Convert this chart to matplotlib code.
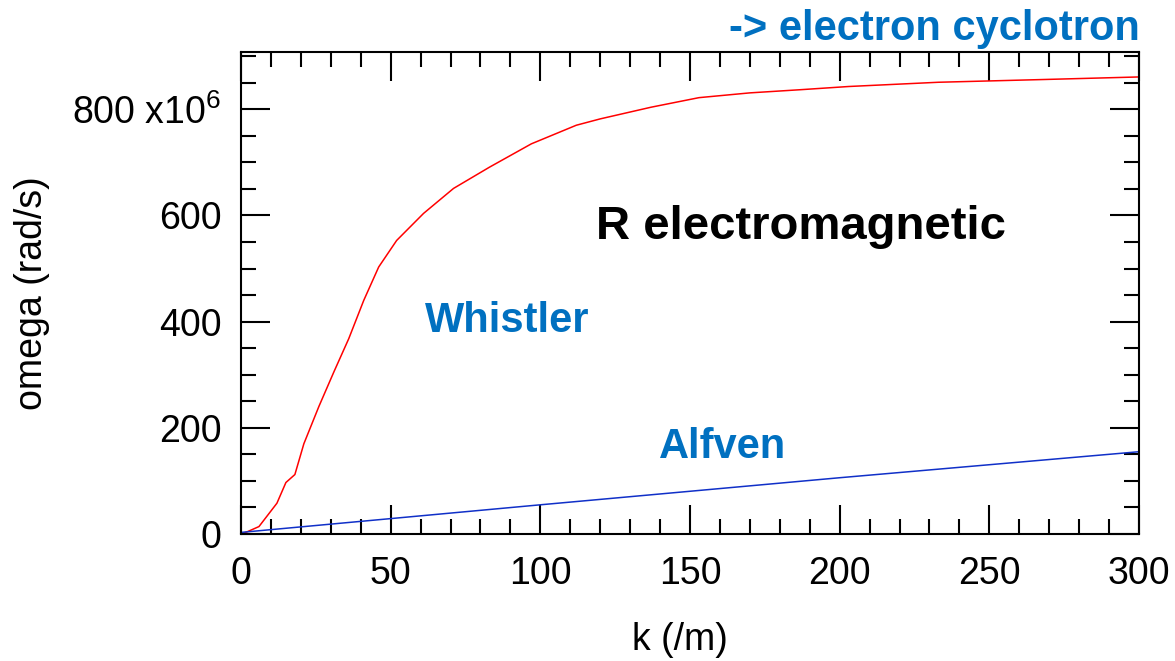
import matplotlib
matplotlib.use("Agg")
import matplotlib.pyplot as plt
from matplotlib.ticker import MultipleLocator, FixedLocator, FixedFormatter

plt.rcParams["font.family"] = ["Liberation Sans", "DejaVu Sans"]
plt.rcParams["mathtext.fontset"] = "custom"
plt.rcParams["mathtext.rm"] = "Liberation Sans"
plt.rcParams["mathtext.it"] = "Liberation Sans:italic"
plt.rcParams["mathtext.bf"] = "Liberation Sans:bold"

# R-wave branch (whistler -> electron cyclotron), omega in rad/s
k_whistler = [0, 2, 6, 9, 12, 15, 18, 21, 26, 31, 36, 41, 46, 52, 61, 71,
              83, 97, 112, 120, 137, 153, 170, 187, 203, 233, 267, 300]
omega_whistler = [0, 4, 14, 36, 58, 97, 112, 170, 240, 305, 368, 440, 503,
                  553, 604, 651, 691, 735, 770, 782, 804, 822, 831, 837,
                  843, 851, 856, 861]
omega_whistler = [w * 1e6 for w in omega_whistler]

# Alfven branch
k_alfven = [0, 100, 200, 300]
omega_alfven = [3e6, 55e6, 106e6, 155e6]

y_ticks = [0, 200e6, 400e6, 600e6, 800e6]
y_tick_labels = ["0", "200", "400", "600", "800 x$10^{6}$"]
x_ticks = [0, 50, 100, 150, 200, 250, 300]

BLUE = "#0070C0"

fig = plt.figure(figsize=(11.75, 6.61), dpi=100)
ax = fig.add_axes([241 / 1175, 1 - 534 / 661, 898 / 1175, 482 / 661])

ax.plot(k_whistler, omega_whistler, color="#FF0000", lw=1.1)
ax.plot(k_alfven, omega_alfven, color="#1030C8", lw=1.1)

ax.set_xlim(0, 300)
ax.set_ylim(0, 908e6)

ax.xaxis.set_major_locator(FixedLocator(x_ticks))
ax.xaxis.set_minor_locator(MultipleLocator(10))
ax.yaxis.set_major_locator(FixedLocator(y_ticks))
ax.yaxis.set_major_formatter(FixedFormatter(y_tick_labels))
ax.yaxis.set_minor_locator(MultipleLocator(50e6))

for s in ax.spines.values():
    s.set_linewidth(1.5)

ax.tick_params(which="both", direction="in", top=True, right=True,
               width=1.5, colors="black")
ax.tick_params(which="major", length=21, labelsize=27, pad=16)
ax.tick_params(which="minor", length=11)
ax.tick_params(axis="y", which="major", pad=14)

ax.set_xlabel("k (/m)", fontsize=27)
ax.set_ylabel("omega (rad/s)", fontsize=27)
ax.xaxis.set_label_coords(0.489, -0.183)
ax.yaxis.set_label_coords(-0.213, 0.5)

ax.text(89, 380e6, "Whistler", color=BLUE, fontsize=30, fontweight="bold",
        ha="center", va="baseline")
ax.text(161, 143e6, "Alfven", color=BLUE, fontsize=30, fontweight="bold",
        ha="center", va="baseline")
ax.text(187, 555e6, "R electromagnetic", color="black", fontsize=34,
        fontweight="bold", ha="center", va="baseline")
fig.text(1140 / 1175, 1 - 40 / 661, "-> electron cyclotron", color=BLUE,
         fontsize=30, fontweight="bold", ha="right", va="baseline")

fig.savefig("out.png", dpi=100)
